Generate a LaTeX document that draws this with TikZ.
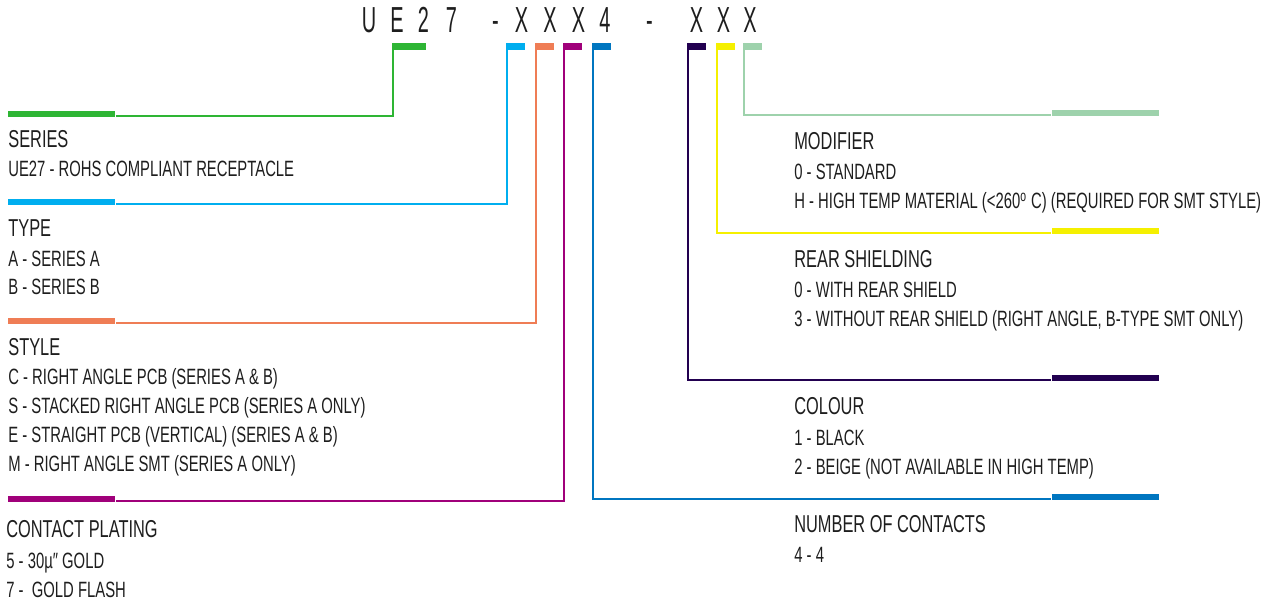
\documentclass[tikz,border=0pt]{standalone}
\usepackage{fontspec}
\setmainfont{Liberation Sans}[FakeStretch=0.67]
\newfontfamily\codefont{Liberation Sans}[FakeStretch=0.55]
\definecolor{ink}{RGB}{30, 30, 30}
\definecolor{serC}{RGB}{46, 181, 52}
\definecolor{typC}{RGB}{0, 174, 239}
\definecolor{styC}{RGB}{239, 125, 85}
\definecolor{plaC}{RGB}{160, 0, 122}
\definecolor{numC}{RGB}{0, 118, 192}
\definecolor{colC}{RGB}{34, 0, 80}
\definecolor{reaC}{RGB}{245, 240, 0}
\definecolor{modC}{RGB}{158, 210, 172}
\tikzset{
    codebar/.style={rectangle, inner sep=0pt, minimum height=0.13cm, minimum width=0.38cm, anchor=north west},
    tab/.style={rectangle, inner sep=0pt, minimum width=2.14cm, minimum height=0.12cm},
    link/.style={line width=1.3pt, line join=miter},
    heading/.style={anchor=base west, inner sep=0pt, text=ink, font=\fontsize{13.9}{16}\selectfont},
    item/.style={anchor=base west, inner sep=0pt, text=ink, font=\fontsize{12.6}{14}\selectfont},
    codechar/.style={anchor=base, inner sep=0pt, text=ink, font=\codefont\fontsize{20.6}{24}\selectfont}
}

\begin{document}
\begin{tikzpicture}[x=0.2mm, y=-0.2mm]
    \useasboundingbox (0,0) rectangle (1277,603);
    % part number
    \foreach \x/\c [count=\i] in {369/U, 397/E, 423.5/2, 451.5/7, 495.5/-, 521.5/X, 550/X, 578.5/X, 605/4, 649.5/-, 696.5/X, 723.5/X, 750/X}
        \node[codechar] (ch\i) at (\x,33) {\c};
    % markers under the part number
    \node[codebar, fill=serC, minimum width=0.68cm] (serBar) at (392,43) {};
    \node[codebar, fill=typC] (typBar) at (506,43) {};
    \node[codebar, fill=styC] (styBar) at (535,43) {};
    \node[codebar, fill=plaC] (plaBar) at (563,43) {};
    \node[codebar, fill=numC] (numBar) at (592,43) {};
    \node[codebar, fill=colC] (colBar) at (687,43) {};
    \node[codebar, fill=reaC] (reaBar) at (716,43) {};
    \node[codebar, fill=modC] (modBar) at (743,43) {};
    % tabs
    \node[tab, fill=serC, anchor=south west] (serTab) at (8,117) {};
    \node[tab, fill=typC, anchor=south west] (typTab) at (8,205) {};
    \node[tab, fill=styC, anchor=south west] (styTab) at (8,324.5) {};
    \node[tab, fill=plaC, anchor=south west] (plaTab) at (8,502.5) {};
    \node[tab, fill=modC, anchor=south east] (modTab) at (1159,116.5) {};
    \node[tab, fill=reaC, anchor=south east] (reaTab) at (1159,234) {};
    \node[tab, fill=colC, anchor=south east] (colTab) at (1159,381.5) {};
    \node[tab, fill=numC, anchor=south east] (numTab) at (1159,500) {};
    % leaders
    \draw[link, serC] ([xshift=0.65pt]serBar.north west) |- ([yshift=0.65pt]serTab.south east);
    \draw[link, typC] ([xshift=0.65pt]typBar.north west) |- ([yshift=0.65pt]typTab.south east);
    \draw[link, styC] ([xshift=0.65pt]styBar.north west) |- ([yshift=0.65pt]styTab.south east);
    \draw[link, plaC] ([xshift=0.65pt]plaBar.north west) |- ([yshift=0.65pt]plaTab.south east);
    \draw[link, numC] ([xshift=0.65pt]numBar.north west) |- ([yshift=0.65pt]numTab.south west);
    \draw[link, colC] ([xshift=0.65pt]colBar.north west) |- ([yshift=0.65pt]colTab.south west);
    \draw[link, reaC] ([xshift=0.65pt]reaBar.north west) |- ([yshift=0.65pt]reaTab.south west);
    \draw[link, modC] ([xshift=0.65pt]modBar.north west) |- ([yshift=0.65pt]modTab.south west);
    % left column
    \node[heading] (serH) at (8,148) {SERIES};
    \node[item] (ser1) at (8,177) {UE27 - ROHS COMPLIANT RECEPTACLE};
    \node[heading] (typH) at (8,237) {TYPE};
    \node[item] (typ1) at (8,267) {A - SERIES A};
    \node[item] (typ2) at (8,295) {B - SERIES B};
    \node[heading] (styH) at (8,356) {STYLE};
    \node[item] (sty1) at (8,385) {C - RIGHT ANGLE PCB (SERIES A \& B)};
    \node[item] (sty2) at (8,414) {S - STACKED RIGHT ANGLE PCB (SERIES A ONLY)};
    \node[item] (sty3) at (8,443) {E - STRAIGHT PCB (VERTICAL) (SERIES A \& B)};
    \node[item] (sty4) at (8,472) {M - RIGHT ANGLE SMT (SERIES A ONLY)};
    \node[heading] (plaH) at (6,538) {CONTACT PLATING};
    \node[item] (pla1) at (6,568) {5 - 30µ″ GOLD};
    \node[item] (pla2) at (6,597) {7 -\ \ GOLD FLASH};
    % right column
    \node[heading] (modH) at (794,150) {MODIFIER};
    \node[item] (mod1) at (794,180) {0 - STANDARD};
    \node[item] (mod2) at (794,209) {H - HIGH TEMP MATERIAL (<260\textsuperscript{o} C) (REQUIRED FOR SMT STYLE)};
    \node[heading] (reaH) at (794,268) {REAR SHIELDING};
    \node[item] (rea1) at (794,298) {0 - WITH REAR SHIELD};
    \node[item] (rea2) at (794,327) {3 - WITHOUT REAR SHIELD (RIGHT ANGLE, B-TYPE SMT ONLY)};
    \node[heading] (colH) at (794,415) {COLOUR};
    \node[item] (col1) at (794,446) {1 - BLACK};
    \node[item] (col2) at (794,475) {2 - BEIGE (NOT AVAILABLE IN HIGH TEMP)};
    \node[heading] (numH) at (794,533) {NUMBER OF CONTACTS};
    \node[item] (num1) at (794,563) {4 - 4};
\end{tikzpicture}
\end{document}
